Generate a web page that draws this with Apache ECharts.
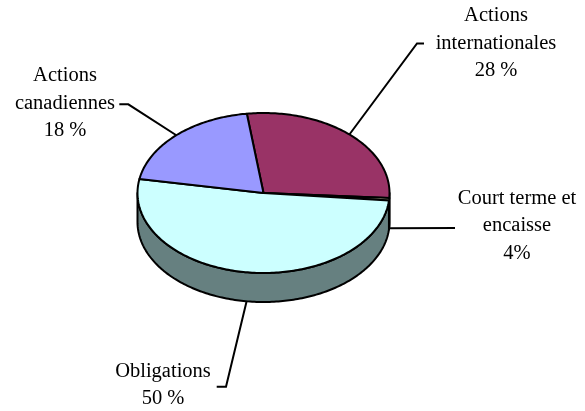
<!DOCTYPE html>
<html>
<head>
<meta charset="utf-8">
<script src="https://cdn.jsdelivr.net/npm/echarts@6/dist/echarts.min.js"></script>
<style>
html,body{margin:0;padding:0;background:#fff;}
#chart{width:585px;height:411px;}
</style>
</head>
<body>
<div id="chart"></div>
<script>
// ---- data ----
const categories = ['Actions internationales', 'Court terme et encaisse', 'Obligations', 'Actions canadiennes'];
const shares = [28.1, 0.5, 51.3, 20.1];          // drawn slice sizes
const labelPercents = ['28 %', '4%', '50 %', '18 %']; // printed labels
const labelNames = [['Actions', 'internationales'], ['Court terme et', 'encaisse'], ['Obligations'], ['Actions', 'canadiennes']];

// ---- styles / layout ----
const topColors = ['#993366', '#FFFFCC', '#CCFFFF', '#9999FF'];
const sideColors = ['#4C1A33', '#808066', '#668080', '#4C4C80'];
const CX = 263.5, CY = 193, RX = 126, RY = 80, DEPTH = 29, START = 262.4;
const labelPos = [[496, 43.5], [517, 226], [163, 385], [65, 103.5]];
const leaderEnds = [
  [[417, 43.5], [424, 43.5]],
  [[455, 228]],
  [[226, 386.7], [216.7, 386.7]],
  [[128.3, 104.3], [119.3, 104.3]]
];
const FONT = '20.5px "Liberation Serif", "Times New Roman", serif';

const total = shares.reduce((a, b) => a + b, 0);
const startAngles = [];
{ let acc = START; shares.forEach(v => { startAngles.push(acc); acc += 360 * v / total; }); }

function pt(deg, dy) {
  const r = deg * Math.PI / 180;
  return [CX + RX * Math.cos(r), CY + RY * Math.sin(r) + dy];
}
function arc(a, b, dy) {
  const n = Math.max(2, Math.ceil(Math.abs(b - a)));
  const out = [];
  for (let k = 0; k <= n; k++) out.push(pt(a + (b - a) * k / n, dy));
  return out;
}

const chart = echarts.init(document.getElementById('chart'), null, {renderer: 'canvas'});
const seriesData = shares.map((v, i) => ({name: categories[i], value: [v]}));

function renderSide(params, api) {
  const i = params.dataIndex;
  const a0 = startAngles[i];
  const a1 = a0 + 360 * api.value(0) / total;
  const children = [];
  [0, 360, 720].forEach(base => {
    const s = Math.max(a0, base), e = Math.min(a1, base + 180);
    if (e > s) {
      const pts = arc(s, e, 0).concat(arc(e, s, DEPTH));
      children.push({
        type: 'polygon', shape: {points: pts},
        style: {fill: sideColors[i], stroke: '#000', lineWidth: 2, lineJoin: 'round'}
      });
    }
  });
  return {type: 'group', children: children};
}
function renderTop(params, api) {
  const i = params.dataIndex;
  const a0 = startAngles[i];
  const a1 = a0 + 360 * api.value(0) / total;
  const pts = [[CX, CY]].concat(arc(a0, a1, 0));
  return {
    type: 'polygon', shape: {points: pts},
    style: {fill: topColors[i], stroke: '#000', lineWidth: 2, lineJoin: 'round'}
  };
}

const graphics = [];
shares.forEach((v, i) => {
  const a0 = startAngles[i];
  const a1 = a0 + 360 * v / total;
  const mid = ((a0 + a1) / 2) % 360;
  const start = (mid > 0 && mid < 180) ? pt(mid, DEPTH) : pt(mid, 0);
  graphics.push({
    type: 'polyline', z: 10, silent: true,
    shape: {points: [start].concat(leaderEnds[i])},
    style: {stroke: '#000', lineWidth: 2, fill: null}
  });
  graphics.push({
    type: 'text', z: 10, silent: true,
    x: labelPos[i][0], y: labelPos[i][1],
    style: {
      text: labelNames[i].concat([labelPercents[i]]).join('\n'),
      font: FONT, fill: '#000', align: 'center', verticalAlign: 'middle', lineHeight: 27.5
    }
  });
});

chart.setOption({
  animation: false,
  backgroundColor: '#fff',
  series: [
    {type: 'custom', coordinateSystem: 'none', silent: true, z: 1, renderItem: renderSide, data: seriesData},
    {type: 'custom', coordinateSystem: 'none', silent: true, z: 2, renderItem: renderTop, data: seriesData}
  ],
  graphic: graphics
});
</script>
</body>
</html>
